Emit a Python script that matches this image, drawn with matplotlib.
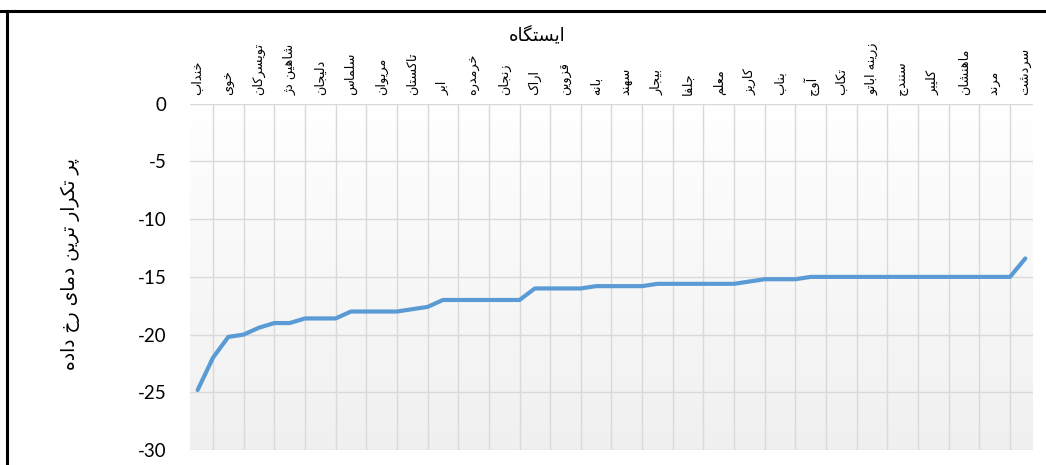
import numpy as np
import matplotlib
matplotlib.use("Agg")
import matplotlib.pyplot as plt
from matplotlib.colors import LinearSegmentedColormap
from matplotlib.lines import Line2D

# labelled stations (every second category is labelled on the chart)
stations = ['خنداب', 'خوی', 'تویسرکان', 'شاهین دژ', 'دلیجان', 'سلماس', 'مریوان',
            'تاکستان', 'ابر', 'خرمدره', 'زنجان', 'اراک', 'قزوین', 'بانه', 'سهند',
            'بیجار', 'جلفا', 'معلم', 'کاریز', 'بناب', 'آوج', 'تکاب', 'زرینه اباتو',
            'سنندج', 'کلیبر', 'ماهنشان', 'مرند', 'سردشت']

temps = [-24.8, -22.0, -20.2, -20.0, -19.4, -19.0, -19.0, -18.6, -18.6, -18.6,
         -18.0, -18.0, -18.0, -18.0, -17.8, -17.6, -17.0, -17.0, -17.0, -17.0,
         -17.0, -17.0, -16.0, -16.0, -16.0, -16.0, -15.8, -15.8, -15.8, -15.8,
         -15.6, -15.6, -15.6, -15.6, -15.6, -15.6, -15.4, -15.2, -15.2, -15.2,
         -15.0, -15.0, -15.0, -15.0, -15.0, -15.0, -15.0, -15.0, -15.0, -15.0,
         -15.0, -15.0, -15.0, -15.0, -13.4]

yticks = [0, -5, -10, -15, -20, -25, -30]
xtitle = 'ایستگاه'
ytitle = 'پر تکرار ترین دمای رخ داده'

# matplotlib does no Arabic shaping, so pick presentation forms by hand
# (isolated, final, initial, medial); two-form letters only join to the right
FORMS = {
    'ا': (0xFE8D, 0xFE8E), 'آ': (0xFE81, 0xFE82), 'د': (0xFEA9, 0xFEAA),
    'ذ': (0xFEAB, 0xFEAC), 'ر': (0xFEAD, 0xFEAE), 'ز': (0xFEAF, 0xFEB0),
    'ژ': (0xFB8A, 0xFB8B), 'و': (0xFEED, 0xFEEE),
    'ب': (0xFE8F, 0xFE90, 0xFE91, 0xFE92), 'پ': (0xFB56, 0xFB57, 0xFB58, 0xFB59),
    'ت': (0xFE95, 0xFE96, 0xFE97, 0xFE98), 'ج': (0xFE9D, 0xFE9E, 0xFE9F, 0xFEA0),
    'چ': (0xFB7A, 0xFB7B, 0xFB7C, 0xFB7D), 'خ': (0xFEA5, 0xFEA6, 0xFEA7, 0xFEA8),
    'س': (0xFEB1, 0xFEB2, 0xFEB3, 0xFEB4), 'ش': (0xFEB5, 0xFEB6, 0xFEB7, 0xFEB8),
    'ع': (0xFEC9, 0xFECA, 0xFECB, 0xFECC), 'ف': (0xFED1, 0xFED2, 0xFED3, 0xFED4),
    'ق': (0xFED5, 0xFED6, 0xFED7, 0xFED8), 'ک': (0xFB8E, 0xFB8F, 0xFB90, 0xFB91),
    'گ': (0xFB92, 0xFB93, 0xFB94, 0xFB95), 'ل': (0xFEDD, 0xFEDE, 0xFEDF, 0xFEE0),
    'م': (0xFEE1, 0xFEE2, 0xFEE3, 0xFEE4), 'ن': (0xFEE5, 0xFEE6, 0xFEE7, 0xFEE8),
    'ه': (0xFEE9, 0xFEEA, 0xFEEB, 0xFEEC), 'ی': (0xFBFC, 0xFBFD, 0xFBFE, 0xFBFF),
}


def shape(s):
    out = []
    for i, c in enumerate(s):
        if c not in FORMS:
            out.append(c)
            continue
        prev = s[i - 1] if i > 0 else ''
        nxt = s[i + 1] if i + 1 < len(s) else ''
        joins_prev = prev in FORMS and len(FORMS[prev]) == 4
        joins_next = len(FORMS[c]) == 4 and nxt in FORMS
        f = FORMS[c]
        if joins_prev and joins_next:
            out.append(chr(f[3]))
        elif joins_prev:
            out.append(chr(f[1]))
        elif joins_next:
            out.append(chr(f[2]))
        else:
            out.append(chr(f[0]))
    return ''.join(out)[::-1]


fig = plt.figure(figsize=(10.46, 4.65), dpi=100)
ax = fig.add_axes([190 / 1046, 1 - 450 / 465, (1033 - 190) / 1046, (450 - 103.8) / 465])

grad = LinearSegmentedColormap.from_list('bg', ['#ffffff', '#f0f0f0'])
ax.imshow(np.linspace(0, 1, 256).reshape(-1, 1), cmap=grad, aspect='auto',
          extent=[0, 1, 0, 1], transform=ax.transAxes, zorder=0)

x = np.arange(len(temps))
ax.plot(x, temps, color='#5b9bd5', lw=3.0, solid_capstyle='round',
        solid_joinstyle='round', zorder=3)

ax.set_xlim(-0.5, len(temps) - 0.5)
ax.set_ylim(-30, 0)

ax.set_xticks(x, minor=True)
ax.set_xticks(x[::2])
ax.set_xticklabels([shape(s) for s in stations], rotation=90, fontsize=9.3,
                   family='DejaVu Sans')
ax.xaxis.tick_top()
ax.tick_params(axis='x', which='both', length=0, pad=6)

ax.set_yticks(yticks)
ax.set_yticklabels([str(v) for v in yticks], fontsize=13.5, family='Lato')
ax.tick_params(axis='y', length=0, pad=17)

ax.grid(which='minor', axis='x', color='#d9d9d9', lw=1)
ax.grid(which='major', axis='y', color='#d9d9d9', lw=1)
ax.set_axisbelow(True)
for sp in ax.spines.values():
    sp.set_visible(False)

fig.text(537 / 1046, 1 - 35 / 465, shape(xtitle), fontsize=13, ha='center',
         va='center', family='DejaVu Sans')
fig.text(70 / 1046, 1 - 264 / 465, shape(ytitle), fontsize=13.5, rotation=90,
         ha='center', va='center', family='DejaVu Sans')

# outer frame, cut off on the right and bottom in the original
fig.add_artist(Line2D([0, 1], [1 - 11.5 / 465] * 2, color='black', lw=2.2))
fig.add_artist(Line2D([6.5 / 1046] * 2, [0, 1 - 11.5 / 465], color='black', lw=2.2))

fig.savefig('out.png', dpi=100)
